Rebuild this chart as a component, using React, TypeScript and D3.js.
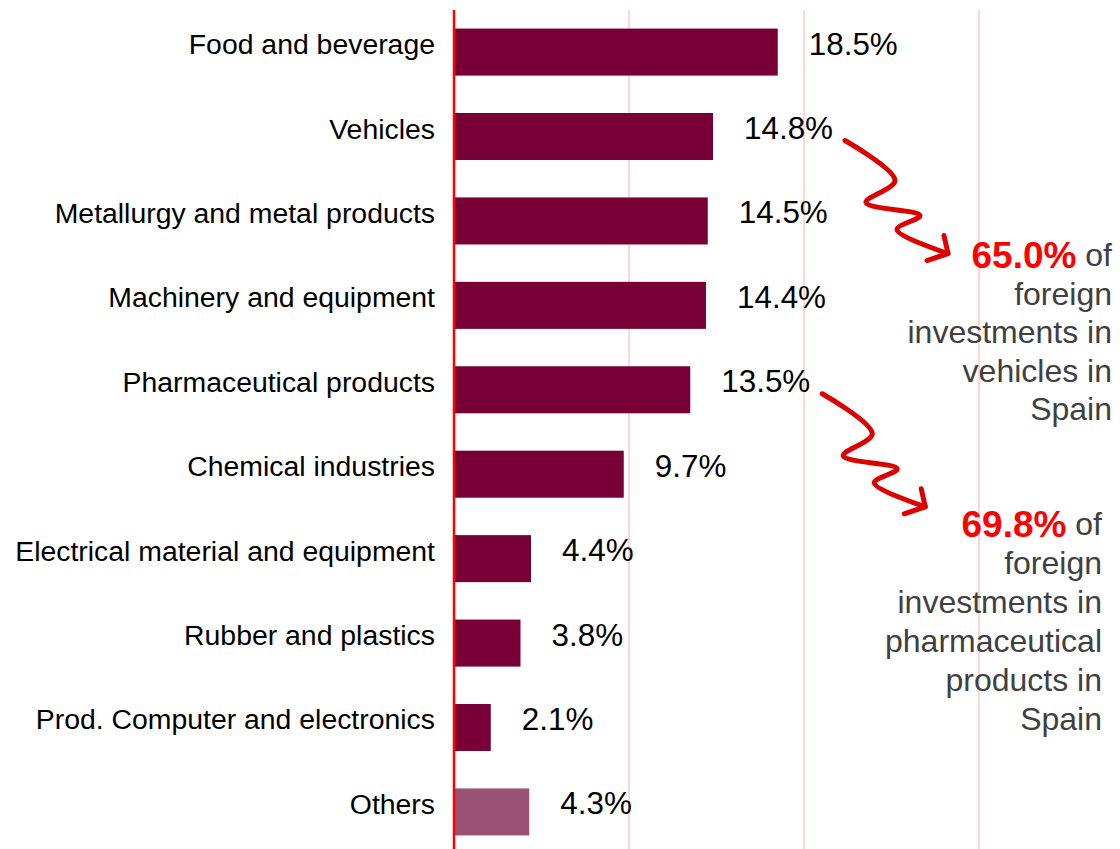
import React from "react";
import * as d3 from "d3";

const categories = [
  "Food and beverage",
  "Vehicles",
  "Metallurgy and metal products",
  "Machinery and equipment",
  "Pharmaceutical products",
  "Chemical industries",
  "Electrical material and equipment",
  "Rubber and plastics",
  "Prod. Computer and electronics",
  "Others",
];
const values = [18.5, 14.8, 14.5, 14.4, 13.5, 9.7, 4.4, 3.8, 2.1, 4.3];
const gridTicks = [10, 20, 30];

const annotations = [
  { category: "Vehicles", pct: "65.0%", lines: ["foreign", "investments in", "vehicles in", "Spain"] },
  { category: "Pharmaceutical products", pct: "69.8%", lines: ["foreign", "investments in", "pharmaceutical", "products in", "Spain"] },
];

const W = 1120;
const H = 849;
const FONT = "'Liberation Sans', Arial, sans-serif";
const BAR = "#780036";
const BAR_OTHER = "#9a5274";
const ARROW = "#dd0000";

// squiggle shape relative to its start point
const squiggle: [number, number][] = [
  [0, 0], [50, 40], [21, 62], [75, 75], [52, 89], [103, 113],
];

export default function App() {
  const x = d3.scaleLinear().domain([0, 40]).range([454, 1154]);
  const y = d3.scaleBand<string>().domain(categories).range([10, 854]).paddingInner(0.443).paddingOuter(0.22);
  const line = d3.line<[number, number]>().x((d) => d[0]).y((d) => d[1]).curve(d3.curveCatmullRom.alpha(0.5));

  const ann = annotations.map((a, i) => {
    const idx = categories.indexOf(a.category);
    const v = values[idx];
    const sx = x(v) + 132;
    const sy = (y(a.category) as number) + y.bandwidth() / 2 + 4;
    const pts = squiggle.map(([dx, dy]) => [sx + dx, sy + dy] as [number, number]);
    const tip = pts[pts.length - 1];
    return { a, pts, tip, textRight: i === 0 ? 1112 : 1102, textTop: i === 0 ? 255 : 524, lh: i === 0 ? 38.5 : 39 };
  });

  return (
    <svg width={W} height={H} style={{ position: "absolute", left: 0, top: 0, background: "#fff" }} fontFamily={FONT}>
      {gridTicks.map((t) => (
        <line key={t} x1={x(t)} x2={x(t)} y1={10} y2={H} stroke="#ffd6d6" strokeWidth={2} />
      ))}
      {categories.map((c, i) => {
        const cy = (y(c) as number) + y.bandwidth() / 2;
        return (
          <g key={c}>
            <rect x={x(0)} y={y(c)} width={x(values[i]) - x(0)} height={y.bandwidth()} fill={c === "Others" ? BAR_OTHER : BAR} />
            <text x={435} y={cy - 8} textAnchor="end" dominantBaseline="central" fontSize={28.4} fill="#000">{c}</text>
            <text x={x(values[i]) + 31} y={cy - 8} dominantBaseline="central" fontSize={31.4} fill="#000">{values[i].toFixed(1)}%</text>
          </g>
        );
      })}
      <line x1={x(0)} x2={x(0)} y1={10} y2={H} stroke="#ff0000" strokeWidth={2.5} />
      {ann.map(({ a, pts, tip, textRight, textTop, lh }) => (
        <g key={a.pct}>
          <path d={line(pts) || ""} fill="none" stroke={ARROW} strokeWidth={5} strokeLinecap="round" strokeLinejoin="round" />
          <path d={`M${tip[0] - 4},${tip[1] - 18} L${tip[0]},${tip[1]} L${tip[0] - 21},${tip[1] + 7}`} fill="none" stroke={ARROW} strokeWidth={5} strokeLinecap="round" strokeLinejoin="round" />
          <text textAnchor="end" fontSize={32} fill="#404040" dominantBaseline="central">
            <tspan x={textRight} y={textTop}>
              <tspan fill="#ff0000" fontWeight="bold" fontSize={37}>{a.pct}</tspan> of
            </tspan>
            {a.lines.map((l, k) => (
              <tspan key={k} x={textRight} y={textTop + lh * (k + 1)}>{l}</tspan>
            ))}
          </text>
        </g>
      ))}
    </svg>
  );
}
